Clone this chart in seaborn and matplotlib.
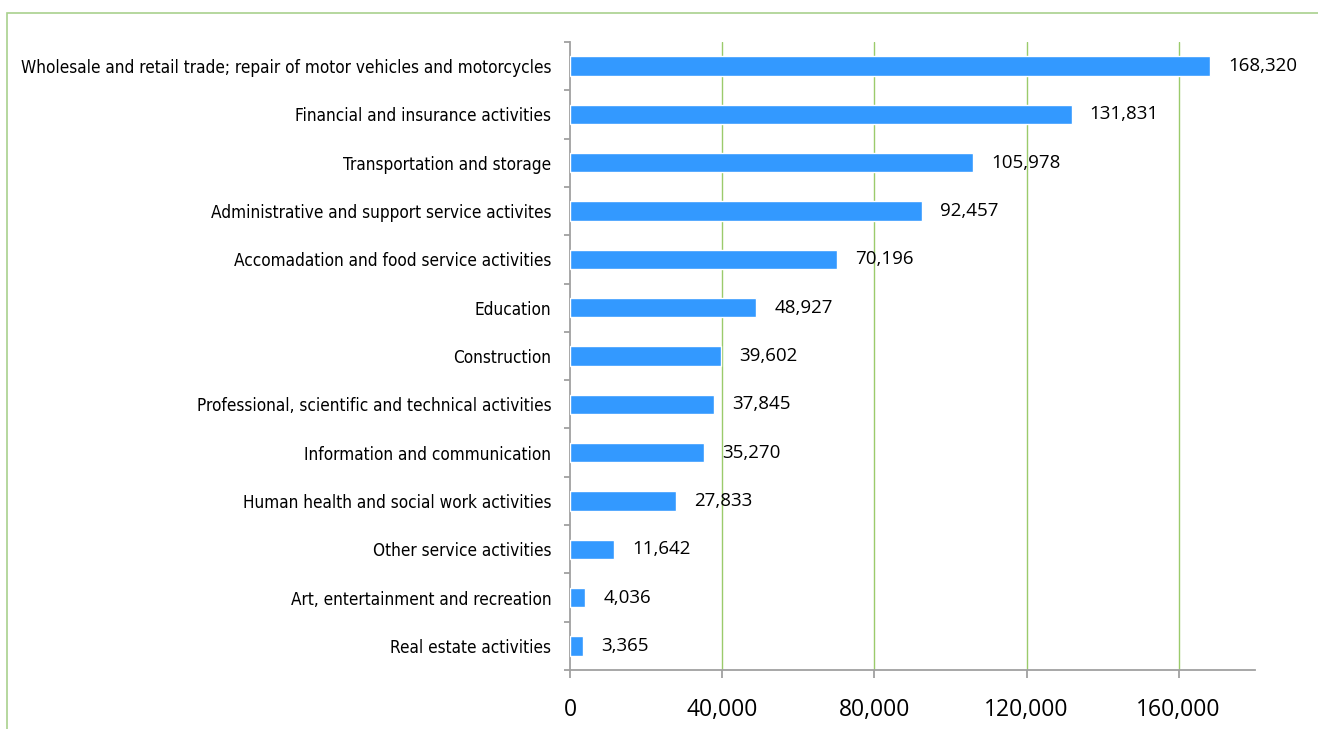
import matplotlib
matplotlib.use("Agg")
import matplotlib.pyplot as plt
import seaborn as sns
import pandas as pd
from matplotlib import font_manager as fm
from matplotlib.patches import Rectangle
from matplotlib.ticker import FixedLocator, FuncFormatter

# Employment by sector
sectors = [
    "Wholesale and retail trade; repair of motor vehicles and motorcycles",
    "Financial and insurance activities",
    "Transportation and storage",
    "Administrative and support service activites",
    "Accomadation and food service activities",
    "Education",
    "Construction",
    "Professional, scientific and technical activities",
    "Information and communication",
    "Human health and social work activities",
    "Other service activities",
    "Art, entertainment and recreation",
    "Real estate activities",
]
values = [168320, 131831, 105978, 92457, 70196, 48927, 39602,
          37845, 35270, 27833, 11642, 4036, 3365]
x_ticks = [0, 40000, 80000, 120000, 160000]

df = pd.DataFrame({"sector": sectors, "value": values})

sns.set_theme(style="white")
plt.rcParams["font.family"] = ["Open Sans", "DejaVu Sans"]

# condensed face for the category labels (closest to Arial Narrow)
condensed = [f.fname for f in fm.fontManager.ttflist
             if f.fname.endswith("DejaVuSansCondensed.ttf")]
if condensed:
    label_font = fm.FontProperties(fname=condensed[0], size=12.3)
else:
    label_font = fm.FontProperties(family=["Liberation Sans", "DejaVu Sans"], size=12.2)

fig = plt.figure(figsize=(13.18, 7.29), dpi=100)
ax = fig.add_axes([0.4325, 0.0809, 0.5195, 0.8615])

# light green frame round the chart area
fig.patches.append(Rectangle((7 / 1318, -0.1), 1.2, 1.1 - 13 / 729,
                             transform=fig.transFigure, fill=False,
                             edgecolor="#A9D18E", linewidth=1.2, zorder=0))

sns.barplot(data=df, x="value", y="sector", orient="h", color="#3399FF",
            saturation=1, width=0.4, ax=ax, zorder=3)

ax.set_xlim(0, 180000)
ax.set_ylim(len(sectors) - 0.5, -0.5)
ax.set_xlabel("")
ax.set_ylabel("")

# vertical gridlines
ax.xaxis.set_major_locator(FixedLocator(x_ticks))
ax.xaxis.set_major_formatter(FuncFormatter(lambda v, p: f"{int(v):,}"))
for t in x_ticks[1:]:
    ax.axvline(t, color="#9BCB6B", linewidth=1.0, zorder=1)

for side in ["top", "right"]:
    ax.spines[side].set_visible(False)
for side in ["left", "bottom"]:
    ax.spines[side].set_color("#A0A0A0")
    ax.spines[side].set_linewidth(1.3)

# category ticks sit between bars
ax.yaxis.set_minor_locator(FixedLocator([i - 0.5 for i in range(len(sectors) + 1)]))
ax.tick_params(axis="y", which="major", length=0, pad=13.5)
ax.tick_params(axis="y", which="minor", left=True, length=4.5, width=1.3, color="#A0A0A0")
ax.tick_params(axis="x", which="major", bottom=True, length=6, width=1.3,
               color="#A0A0A0", pad=14, labelsize=16.5)

for lbl in ax.get_yticklabels():
    lbl.set_fontproperties(label_font)
    lbl.set_color("black")
for lbl in ax.get_xticklabels():
    lbl.set_color("black")

ax.bar_label(ax.containers[0], labels=[f"{v:,}" for v in values],
             padding=13, fontsize=13.5, color="black")

fig.savefig("out.png", dpi=100)
